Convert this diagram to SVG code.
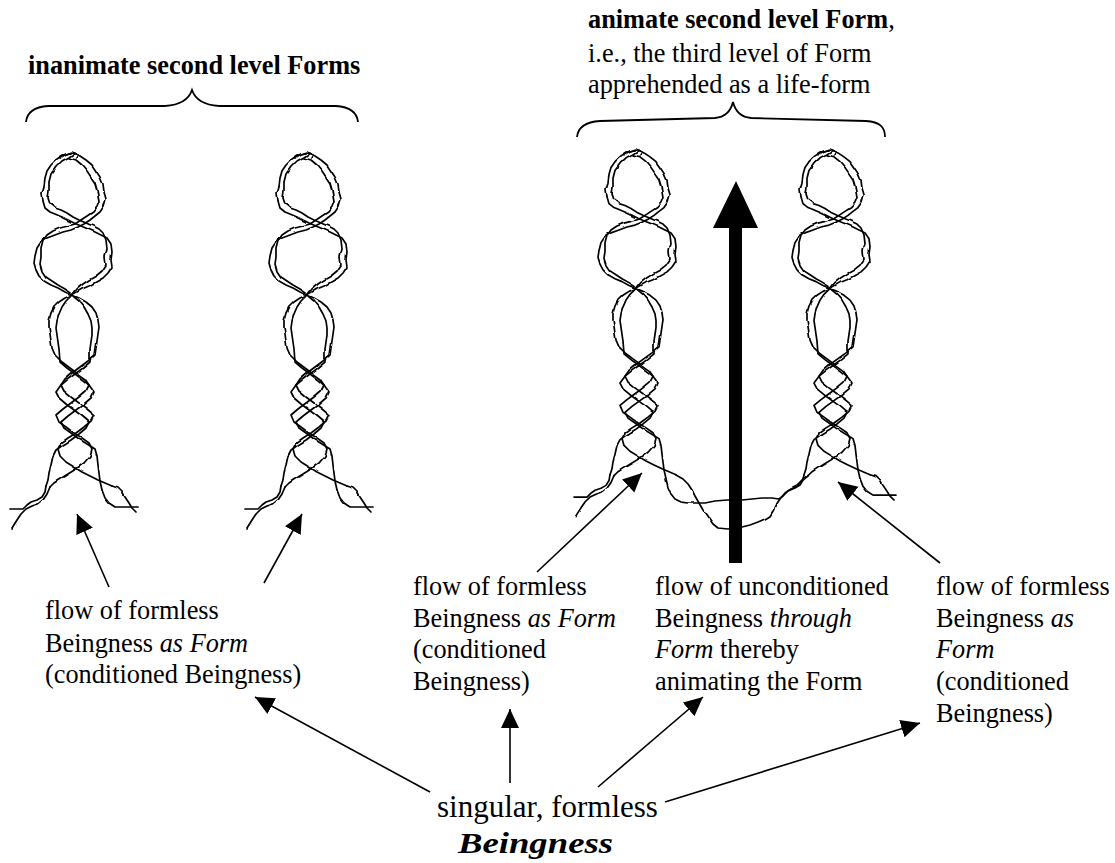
<svg xmlns="http://www.w3.org/2000/svg" xmlns:xlink="http://www.w3.org/1999/xlink" width="1115" height="863" viewBox="0 0 1115 863">
<style>
.t{font-family:"Liberation Serif","Times New Roman",serif;font-size:26.3px;fill:#000}
.b{font-weight:bold}
.i{font-style:italic}
.h{fill:none;stroke:#000;stroke-width:1.7;stroke-linejoin:round;stroke-linecap:round}
.c{fill:none;stroke:#000;stroke-width:1.6}
.br{fill:none;stroke:#000;stroke-width:1.8}
</style>
<defs>
<filter id="rough" x="-10%" y="-5%" width="120%" height="110%">
<feTurbulence type="fractalNoise" baseFrequency="0.08" numOctaves="1" seed="5"/>
<feDisplacementMap in="SourceGraphic" scale="3" xChannelSelector="R" yChannelSelector="G"/>
</filter>
<marker id="ah" markerUnits="userSpaceOnUse" markerWidth="20" markerHeight="20" refX="19" refY="9" orient="auto">
<path d="M0,0 L19,9 L0,18 z" fill="#000"/>
</marker>
<g id="body" class="h">
<path d="M60,158 L66,154 L72,152 L78,155 L76,158"/>
<path d="M70,153 L63,155 L57,159 L51,165 L47,171 L45,178 L44,186 L42,193 L43,201 L45,208 L50,212 L55,214 L62,217 L68,220 L74,223 L81,226 L88,229 L95,232 L101,235 L107,238 L111,244 L112,252 L111,260 L112,267 L108,273 L103,278 L96,282 L89,286 L82,289 L77,292 L72,295"/>
<path d="M75,153 L69,157 L62,161 L56,167 L51,174 L49,182 L49,190 L48,198 L50,204 L55,208 L61,210 L67,213 L73,217 L79,220 L86,223 L93,226 L99,229 L103,233 L106,240 L107,249 L105,257 L106,265 L102,271 L96,276 L89,280 L83,284 L77,289 L73,294"/>
<path d="M73,153 L80,156 L86,160 L92,165 L96,171 L100,177 L103,184 L104,192 L106,199 L104,206 L100,212 L95,216 L90,220 L84,224 L78,227 L71,230 L63,232 L55,235 L47,238 L41,242 L37,248 L35,256 L34,263 L36,270 L39,276 L44,281 L51,285 L58,288 L65,292 L72,295"/>
<path d="M69,158 L76,160 L82,165 L87,171 L91,177 L95,183 L97,190 L98,196 L99,202 L97,207 L93,212 L87,216 L81,220 L75,224 L68,226 L60,228 L53,231 L47,235 L43,241 L41,249 L41,257 L40,264 L42,271 L46,277 L52,281 L58,285 L65,289 L71,293"/>
<path d="M72,295 L65,298 L59,302 L54,307 L51,313 L49,320 L49,327 L50,334 L51,341 L52,348 L55,355 L62,362 L70,368 L78,374 L85,379 L89,385 L86,391 L79,397 L71,403 L63,409 L56,415 L59,422 L66,427 L74,433 L82,438 L89,443 L92,449 L90,456 L84,463 L76,469 L68,474 L60,479 L54,483 L50,487"/>
<path d="M71,296 L66,301 L62,307 L59,314 L57,321 L56,328 L57,335 L58,342 L59,349 L60,362 L67,368 L75,374 L83,380 L89,385 L94,392 L91,398 L84,404 L76,410 L68,416 L61,422 L64,428 L71,433 L79,439 L87,444 L95,449 L97,456 L98,465 L99,473 L100,481 L102,490"/>
<path d="M72,295 L79,298 L86,302 L92,307 L96,313 L98,320 L99,327 L98,334 L97,341 L96,348 L95,355 L88,361 L80,367 L72,373 L65,379 L61,385 L64,391 L71,397 L79,403 L87,409 L94,415 L91,421 L84,427 L76,433 L68,438 L61,443 L58,449 L60,456 L66,462 L74,467 L82,472 L90,476 L98,480 L105,483 L112,486"/>
<path d="M73,296 L79,301 L84,307 L88,314 L91,321 L92,328 L92,335 L91,342 L90,349 L90,362 L83,368 L75,374 L67,380 L61,385 L56,392 L59,398 L66,404 L74,410 L82,416 L89,422 L86,428 L79,434 L71,440 L63,445 L56,450 L53,456 L51,465 L49,473 L48,480 L46,486"/>
</g>
<g id="lfoot" class="h">
<path d="M46,486 L45,492 L42,497 L37,500 L31,502 L27,505 L23,509 L10,509"/>
<path d="M50,487 L47,494 L43,500 L38,504 L32,506 L26,509 L21,514 L17,520 L12,528"/>
</g>
<g id="rfoot" class="h">
<path d="M102,490 L105,498 L109,503 L115,507 L137,507"/>
<path d="M112,486 L118,488 L122,492 L125,497 L129,503 L132,508 L136,512"/>
</g>
</defs>
<rect width="1115" height="863" fill="#fff"/>

<g id="heading-inanimate">
<text class="t b" x="28" y="74">inanimate second level Forms</text>
<path class="br" d="M26,122 C27,112 34,107 48,106 L165,106 C180,105 189,99 192,90 C195,99 204,105 219,106 L336,106 C350,107 357,112 358,122"/>
</g>

<g id="heading-animate">
<text class="t" x="588" y="28"><tspan class="b">animate second level Form</tspan>,</text>
<text class="t" x="588" y="62">i.e., the third level of Form</text>
<text class="t" x="588" y="93">apprehended as a life-form</text>
<path class="br" d="M577,137 C578,127 585,122 600,121 L715,118 C726,117 731,110 733,102 C735,110 740,117 751,118 L866,121 C880,122 885,127 885,137"/>
</g>

<g id="helix1" filter="url(#rough)">
<use xlink:href="#body" href="#body"/>
<use xlink:href="#lfoot" href="#lfoot"/>
<use xlink:href="#rfoot" href="#rfoot"/>
</g>
<g id="helix2" transform="translate(235,0)" filter="url(#rough)">
<use xlink:href="#body" href="#body"/>
<use xlink:href="#lfoot" href="#lfoot"/>
<use xlink:href="#rfoot" href="#rfoot"/>
</g>
<g id="helix3" transform="matrix(1,0,0,0.975,564,0.825)" filter="url(#rough)">
<use xlink:href="#body" href="#body"/>
<use xlink:href="#lfoot" href="#lfoot"/>
</g>
<g id="helix4" transform="matrix(1,0,0,0.975,758,0.825)" filter="url(#rough)">
<use xlink:href="#body" href="#body"/>
<use xlink:href="#rfoot" href="#rfoot"/>
</g>
<g id="helix-base" class="h" filter="url(#rough)">
<path d="M666,479 L668,487 L671,494 L675,499 L681,502 L688,503 L696,503 L705,503 L715,501 L727,500 L742,500 L752,499 L762,498 L772,498 L779,499 L783,496 L788,491 L795,488 L800,485 L803,480 L804,475"/>
<path d="M676,475 L683,479 L688,484 L692,490 L695,496 L699,503 L703,510 L708,517 L713,524 L718,528 L728,529 L742,527 L750,525 L758,522 L765,519 L770,516 L773,511 L776,505 L780,499 L785,493 L791,489 L797,486 L803,480 L808,476"/>
</g>

<g id="animation-arrow">
<path d="M736,181 L758,228 L742,228 L742,563 L729,563 L729,228 L713,228 Z" fill="#000"/>
</g>

<g id="label-left">
<text class="t" x="45" y="619">flow of formless</text>
<text class="t" x="45" y="652">Beingness <tspan class="i">as Form</tspan></text>
<text class="t" x="45" y="683">(conditioned Beingness)</text>
</g>

<g id="label-midleft">
<text class="t" x="413" y="595">flow of formless</text>
<text class="t" x="413" y="627">Beingness <tspan class="i">as Form</tspan></text>
<text class="t" x="413" y="658">(conditioned</text>
<text class="t" x="413" y="690">Beingness)</text>
</g>

<g id="label-middle">
<text class="t" x="655" y="595">flow of unconditioned</text>
<text class="t" x="655" y="627">Beingness <tspan class="i">through</tspan></text>
<text class="t" x="655" y="658"><tspan class="i">Form</tspan> thereby</text>
<text class="t" x="655" y="690">animating the Form</text>
</g>

<g id="label-right">
<text class="t" x="936" y="595">flow of formless</text>
<text class="t" x="936" y="627">Beingness <tspan class="i">as</tspan></text>
<text class="t" x="936" y="658" font-style="italic">Form</text>
<text class="t" x="936" y="690">(conditioned</text>
<text class="t" x="936" y="722">Beingness)</text>
</g>

<g id="source">
<text class="t" x="437" y="817" style="font-size:31px">singular, formless</text>
<text class="t b i" x="458" y="853" style="font-size:30px" textLength="155" lengthAdjust="spacingAndGlyphs">Beingness</text>
</g>

<g id="connectors" class="c" marker-end="url(#ah)">
<line x1="109" y1="587" x2="77" y2="514"/>
<line x1="264" y1="583" x2="302" y2="514"/>
<line x1="537" y1="572" x2="642" y2="473"/>
<line x1="940" y1="563" x2="838" y2="482"/>
<line x1="430" y1="792" x2="255" y2="697"/>
<line x1="510" y1="783" x2="510" y2="709"/>
<line x1="598" y1="787" x2="703" y2="697"/>
<line x1="665" y1="802" x2="920" y2="723"/>
</g>
</svg>
